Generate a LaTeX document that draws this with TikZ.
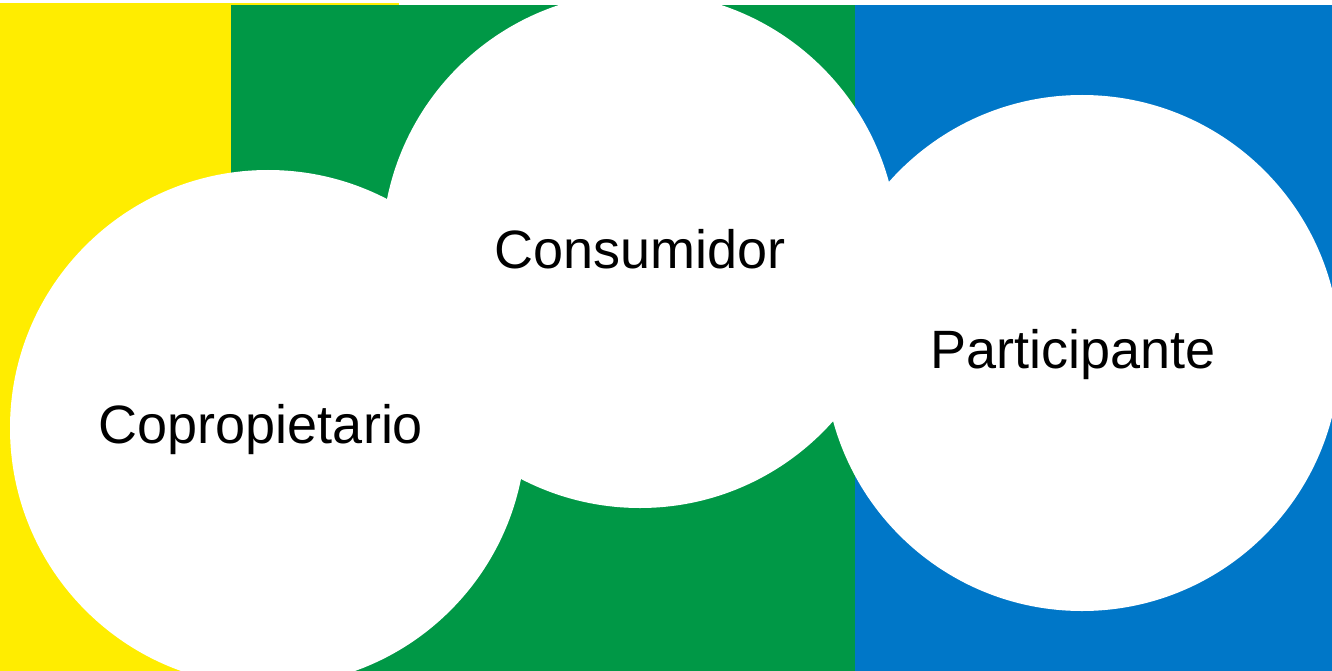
\documentclass[tikz,border=0pt]{standalone}
\usepackage{fontspec}
\setmainfont{Liberation Sans}
\definecolor{amarillo}{RGB}{255,237,0}
\definecolor{verde}{RGB}{0,152,70}
\definecolor{azul}{RGB}{0,119,200}
\begin{document}
\begin{tikzpicture}[x=1pt,y=-1pt]
	\tikzset{etiqueta/.style={font=\fontsize{54}{58}\selectfont,anchor=base,inner sep=0pt}}
	\useasboundingbox (0,0) rectangle (1332,671);
	\clip (0,0) rectangle (1332,671);
	% franjas de fondo
	\fill[amarillo] (0,3) rectangle (399,671);
	\fill[verde] (231,5) rectangle (855,671);
	\fill[azul] (855,5) rectangle (1332,671);
	% circulos
	\foreach \cx/\cy in {268/428,640/250,1082/353}
	\fill[white] (\cx,\cy) circle[radius=258];
	\node[etiqueta] (copro) at (261,443) {Copropietario};
	\node[etiqueta] (consu) at (640,268) {Consumidor};
	\node[etiqueta] (parti) at (1073,368) {Participante};
\end{tikzpicture}
\end{document}
